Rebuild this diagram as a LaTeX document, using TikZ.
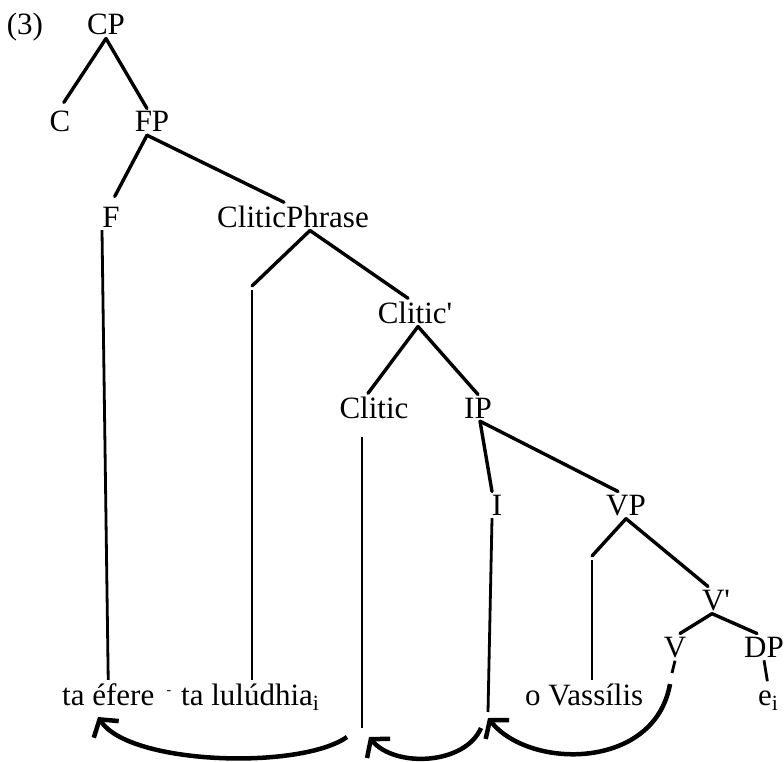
\documentclass[tikz,border=0pt]{standalone}
\usepackage{fontspec}
\setmainfont{Liberation Serif}
\usetikzlibrary{arrows.meta}

\begin{document}
\begin{tikzpicture}[x=1pt, y=-1pt,
    every node/.style={font=\fontsize{31}{36}\selectfont, inner sep=3pt, anchor=base},
    branch/.style={line width=3.4pt, line cap=round},
    trace/.style={line width=2.8pt},
    move/.style={line width=4.5pt, -{Straight Barb[length=12pt,width=30pt]}}]
    \useasboundingbox (0,0) rectangle (784,762);

    % Labels of the tree
    \node (ex) at (25,35) {(3)};
    \node (cp) at (106,35) {CP};
    \node (c) at (60,132) {C};
    \node (fp) at (152,132) {FP};
    \node (f) at (111,227) {F};
    \node (clp) at (293,227) {CliticPhrase};
    \node (clbar) at (415,323) {Clitic\textquotesingle};
    \node (cl) at (374,418) {Clitic};
    \node (ip) at (478,418) {IP};
    \node (i) at (497,515) {I};
    \node (vp) at (626,515) {VP};
    \node (vbar) at (716,610) {V\textquotesingle};
    \node (v) at (675,657) {V};
    \node (dp) at (764,657) {DP};

    % Words at the bottom
    \node[anchor=base west] (efere) at (59,705) {ta éfere};
    \node (dash) at (169,705) {\raisebox{10.5pt}{\fontsize{14}{14}\selectfont -}};
    \node[anchor=base west] (luludhia) at (178,705) {ta lulúdhia\textsubscript{i}};
    \node[anchor=base west] (vassilis) at (522,705) {o Vassílis};
    \node[anchor=base west] (ei) at (755,705) {e\textsubscript{i}};

    % Empty positions and ends of the traces
    \coordinate (clspec) at (252,286);
    \coordinate (vpspec) at (592,556);
    \coordinate (cltop) at (362,437);
    \coordinate (clbot) at (362,728);
    \coordinate (ibot) at (488,712);
    \coordinate (vbot) at (672,673);

    % Ends of the movement arrows
    \coordinate (clmove) at (347,737);
    \coordinate (imove) at (481,728);
    \coordinate (vmove) at (670,684);
    \coordinate (eferetip) at (98,717);
    \coordinate (cltip) at (369,737);
    \coordinate (itip) at (488,718);

    % Draw branches
    \draw[branch, shorten >=7pt] (cp.south) -- (c.north);
    \draw[branch] (cp.south) -- ([xshift=-5pt]fp.north);
    \draw[branch, shorten >=8pt] ([xshift=-5pt]fp.south) -- (f.north);
    \draw[branch] ([xshift=-5pt]fp.south) -- ([xshift=-9pt]clp.north);
    \draw[branch] ([xshift=17pt]clp.south) -- (clspec);
    \draw[branch] ([xshift=17pt]clp.south) -- ([xshift=-7pt]clbar.north);
    \draw[branch] ([xshift=3pt]clbar.south) -- ([xshift=-6pt]cl.north);
    \draw[branch] ([xshift=3pt]clbar.south) -- (ip.north);
    \draw[branch] ([xshift=2pt]ip.south) -- ([xshift=-5pt]i.north);
    \draw[branch] ([xshift=2pt]ip.south) -- ([xshift=-8pt]vp.north);
    \draw[branch] (vp.south) -- (vpspec);
    \draw[branch] (vp.south) -- ([xshift=-8pt]vbar.north);
    \draw[branch] ([xshift=-4pt]vbar.south) -- ([xshift=5pt]v.north);
    \draw[branch] ([xshift=-4pt]vbar.south) -- ([xshift=-7pt]dp.north);

    % Draw traces down to the words
    \draw[trace] ([xshift=-9pt]f.south) -- (efere.north);
    \draw[trace] ([yshift=-4pt]clspec) -- (clspec |- luludhia.north);
    \draw[trace] (cltop) -- (clbot);
    \draw[trace] ([xshift=-5pt]i.south) -- (ibot);
    \draw[trace] ([yshift=-4pt]vpspec) -- (vpspec |- vassilis.north);
    \draw[trace] (v.south) -- (vbot);
    \draw[trace, shorten >=6pt] (dp.south) -- (ei.north);

    % Draw movement arrows
    \draw[move] (clmove) .. controls (300,770) and (130,765) .. (eferetip);
    \draw[move] (imove) .. controls (465,765) and (395,768) .. (cltip);
    \draw[move] (vmove) .. controls (655,770) and (530,770) .. (itip);

\end{tikzpicture}
\end{document}
